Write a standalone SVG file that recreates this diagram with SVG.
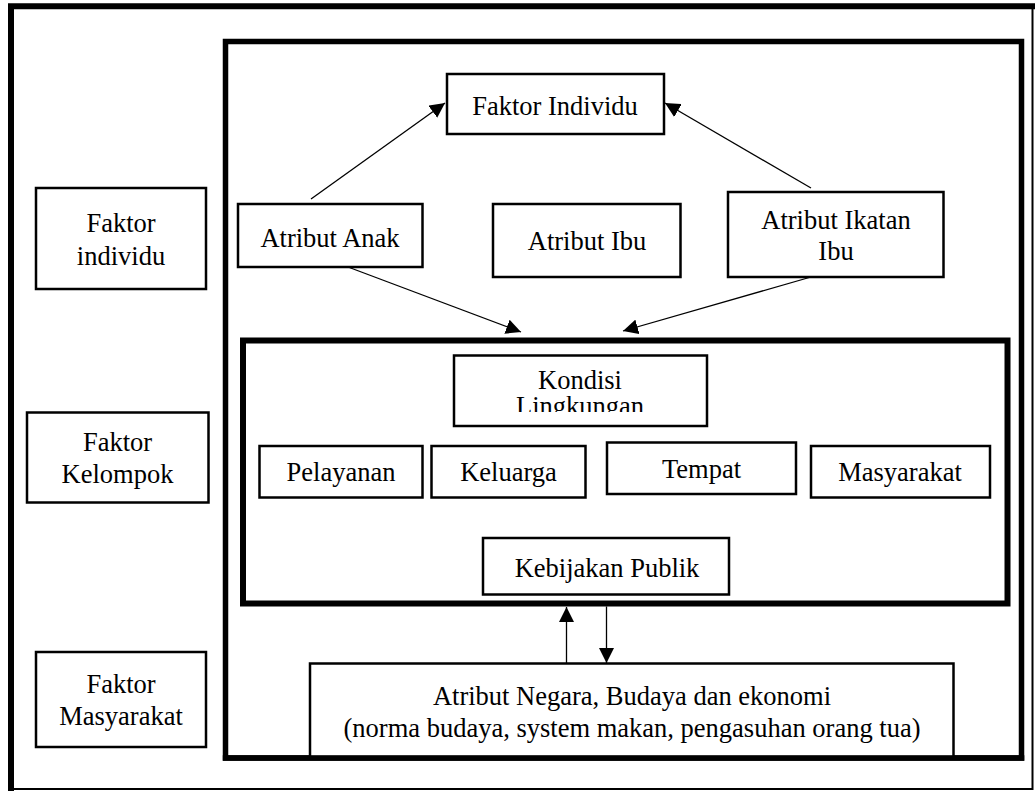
<svg xmlns="http://www.w3.org/2000/svg" width="1035" height="791" viewBox="0 0 1035 791" font-family="'Liberation Serif', 'Times New Roman', 'DejaVu Serif', serif">
<style>
.node{fill:#fff;stroke:#000;stroke-width:2.5}
.frame{fill:none;stroke:#000}
text{font-family:'Liberation Serif','Times New Roman','DejaVu Serif',serif;font-size:26.5px;fill:#000;text-anchor:middle}
.conn{stroke:#000;stroke-width:1.3;fill:none;marker-end:url(#ah)}
</style>
<defs>
<marker id="ah" markerUnits="userSpaceOnUse" markerWidth="16" markerHeight="15" refX="15" refY="7.5" orient="auto">
<path d="M0,0 L15,7.5 L0,15 z" fill="#000"/>
</marker>
<clipPath id="kclip"><rect x="455" y="357" width="250" height="55"/></clipPath>
</defs>
<rect width="1035" height="791" fill="#fff"/>
<g id="outer-frame">
<path d="M11,791 L11,6.3 L1035,6.3" class="frame" stroke-width="6"/>
<path d="M1032.5,6 L1032.5,789 L11,789" class="frame" stroke-width="2"/>
</g>
<g id="inner-box">
<rect x="225.5" y="41.5" width="796" height="716.5" class="frame" stroke-width="5.5"/>
</g>
<g id="kondisi-container">
<rect x="243" y="340.5" width="764.5" height="263" class="frame" stroke-width="6"/>
</g>
<g id="faktor-individu-left">
<rect x="36" y="188" width="170" height="101" class="node"/>
<text x="121" y="232">Faktor</text>
<text x="121" y="265">individu</text>
</g>
<g id="faktor-kelompok">
<rect x="27" y="412.5" width="181.5" height="90" class="node"/>
<text x="117.5" y="451">Faktor</text>
<text x="117.5" y="483">Kelompok</text>
</g>
<g id="faktor-masyarakat">
<rect x="36" y="652" width="170" height="95" class="node"/>
<text x="121" y="693">Faktor</text>
<text x="121" y="724.5">Masyarakat</text>
</g>
<g id="faktor-individu">
<rect x="447" y="74" width="217" height="60" class="node"/>
<text x="555" y="115">Faktor Individu</text>
</g>
<g id="atribut-anak">
<rect x="238" y="204" width="184.5" height="63" class="node"/>
<text x="330" y="247">Atribut Anak</text>
</g>
<g id="atribut-ibu">
<rect x="493" y="204" width="187.5" height="73" class="node"/>
<text x="587" y="250">Atribut Ibu</text>
</g>
<g id="atribut-ikatan-ibu">
<rect x="728" y="192" width="215.5" height="85" class="node"/>
<text x="836" y="228.5">Atribut Ikatan</text>
<text x="836" y="260">Ibu</text>
</g>
<g id="kondisi-lingkungan">
<rect x="454" y="355.5" width="253" height="70.5" class="node" stroke-width="3"/>
<g clip-path="url(#kclip)">
<text x="580" y="389">Kondisi</text>
<text x="580" y="414.5">Lingkungan</text>
</g>
</g>
<g id="pelayanan">
<rect x="259.5" y="446" width="163" height="51.5" class="node"/>
<text x="341" y="481">Pelayanan</text>
</g>
<g id="keluarga">
<rect x="431.5" y="446" width="154" height="51.5" class="node"/>
<text x="508.5" y="481">Keluarga</text>
</g>
<g id="tempat">
<rect x="607" y="442.5" width="189" height="51.5" class="node"/>
<text x="701.5" y="477.5">Tempat</text>
</g>
<g id="masyarakat">
<rect x="811" y="446" width="179" height="51.5" class="node"/>
<text x="900" y="481">Masyarakat</text>
</g>
<g id="kebijakan-publik">
<rect x="483" y="538" width="246" height="56.5" class="node"/>
<text x="607" y="577">Kebijakan Publik</text>
</g>
<g id="atribut-negara">
<rect x="310" y="663.5" width="643.5" height="93.5" class="node"/>
<text x="632" y="705">Atribut Negara, Budaya dan ekonomi</text>
<text x="632" y="737">(norma budaya, system makan, pengasuhan orang tua)</text>
</g>
<path d="M222.8,758 L1024.3,758" stroke="#000" stroke-width="5.5"/>
<g id="connectors">
<line class="conn" x1="311" y1="199" x2="445" y2="103"/>
<line class="conn" x1="811" y1="188" x2="665" y2="103"/>
<line class="conn" x1="348" y1="267" x2="521" y2="332"/>
<line class="conn" x1="811" y1="277" x2="623" y2="331"/>
<line class="conn" x1="566.5" y1="663" x2="566.5" y2="607"/>
<line class="conn" x1="606.5" y1="606.5" x2="606.5" y2="663"/>
</g>
</svg>
